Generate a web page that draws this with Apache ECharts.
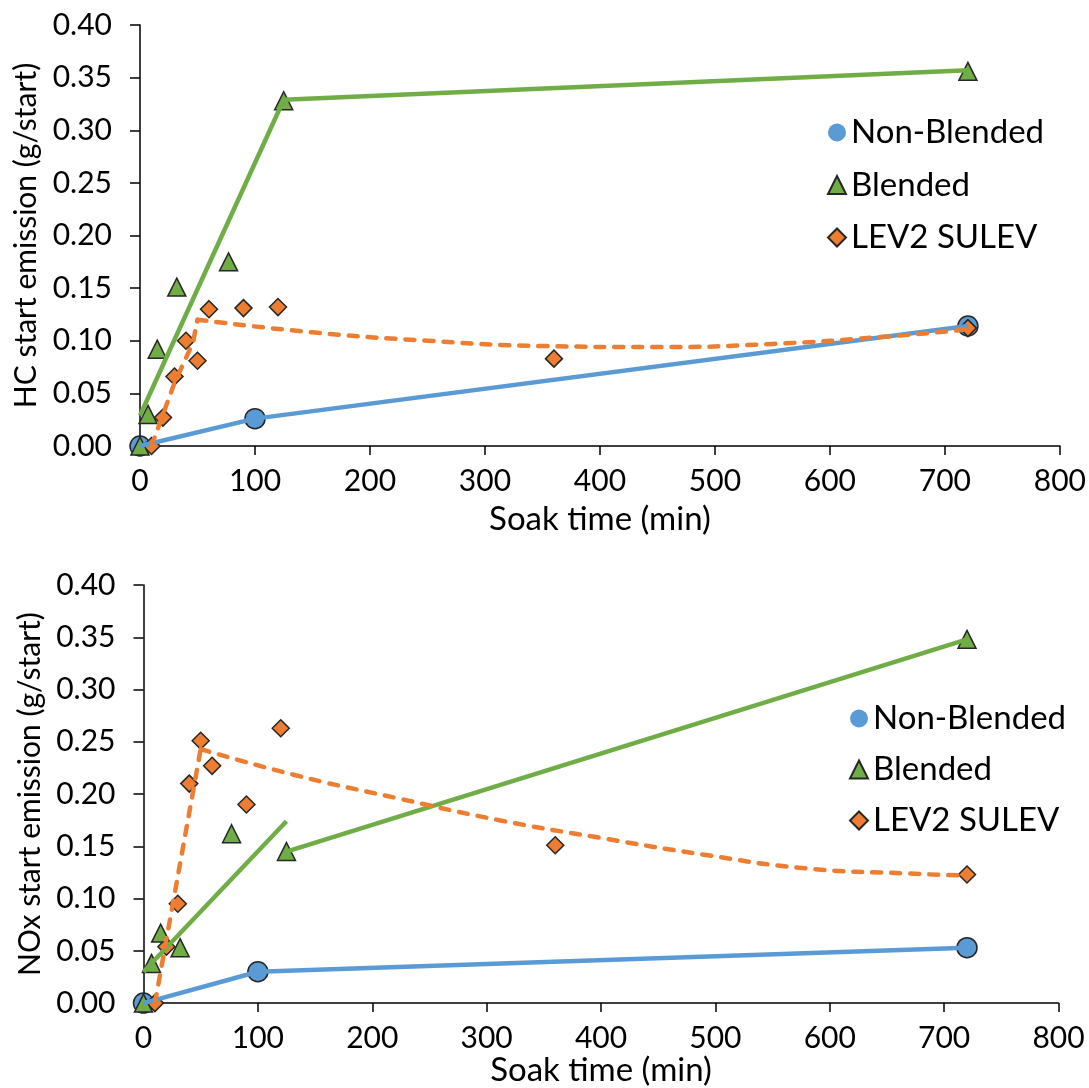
<!DOCTYPE html>
<html><head><meta charset="utf-8">
<script src="https://cdn.jsdelivr.net/npm/echarts@6/dist/echarts.min.js"></script>
<style>html,body{margin:0;padding:0;background:#fff}#c{width:1089px;height:1088px}</style>
</head><body><div id="c"></div>
<script>
// ---- data ----
const nonBlendedX = [0, 100, 720];
const hcNonBlended = [0.000, 0.026, 0.114];
const noxNonBlended = [0.000, 0.030, 0.053];

const blendedX = [0, 7, 15, 32, 77, 125, 720];
const hcBlended = [0.000, 0.030, 0.092, 0.151, 0.175, 0.328, 0.356];
const noxBlended = [0.000, 0.038, 0.067, 0.053, 0.162, 0.145, 0.348];

const sulevX = [10, 20, 30, 40, 50, 60, 90, 120, 360, 720];
const hcSulev = [0.000, 0.027, 0.066, 0.100, 0.081, 0.130, 0.131, 0.132, 0.083, 0.112];
const noxSulev = [0.000, 0.054, 0.095, 0.210, 0.251, 0.227, 0.190, 0.263, 0.151, 0.123];

// trend lines
const hcNbTrendX = [0, 100, 720];
const hcNbTrend = [0.000, 0.026, 0.114];
const noxNbTrendX = [0, 100, 720];
const noxNbTrend = [0.000, 0.030, 0.053];

const hcBlTrendAX = [0, 125];
const hcBlTrendA = [0.029, 0.329];
const hcBlTrendBX = [125, 720];
const hcBlTrendB = [0.329, 0.357];
const noxBlTrendAX = [0, 125];
const noxBlTrendA = [0.030, 0.174];
const noxBlTrendBX = [125, 720];
const noxBlTrendB = [0.145, 0.348];

const hcSuTrendAX = [10, 30, 46, 50];
const hcSuTrendA = [0.000, 0.060, 0.098, 0.120];
const hcSuTrendBX = [50, 150, 250, 350, 450, 550, 650, 720];
const hcSuTrendB = [0.120, 0.108, 0.100, 0.095, 0.094, 0.097, 0.104, 0.111];
const noxSuTrendAX = [10, 50];
const noxSuTrendA = [0.000, 0.243];
const noxSuTrendBX = [50, 133, 222, 311, 400, 490, 578, 668, 720];
const noxSuTrendB = [0.243, 0.218, 0.196, 0.175, 0.158, 0.142, 0.129, 0.124, 0.122];

const xTitle = 'Soak time (min)';
const yTitles = ['HC start emission (g/start)', 'NOx start emission (g/start)'];
const seriesNames = ['Non-Blended', 'Blended', 'LEV2 SULEV'];

// ---- styling ----
const FONT = 'Lato';
const BLUE = '#5B9BD5', GREEN = '#70AD47', ORANGE = '#ED7D31', EDGE = '#262626';
const zip = (xs, ys) => xs.map((x, i) => [x, ys[i]]);

function lineS(gi, xs, ys, color, dashed, smooth) {
  return {
    type: 'line', xAxisIndex: gi, yAxisIndex: gi, data: zip(xs, ys),
    symbol: 'none', smooth: smooth ? 0.5 : false, z: 5, silent: true,
    lineStyle: dashed ? { color, width: 4.5, type: [9, 10], cap: 'round' } : { color, width: 4.5 }
  };
}
function scat(gi, name, xs, ys, symbol, size, color, z) {
  return {
    type: 'scatter', name, xAxisIndex: gi, yAxisIndex: gi, data: zip(xs, ys),
    symbol, symbolSize: size, z,
    itemStyle: { color, borderColor: EDGE, borderWidth: 1.5, opacity: 1 }
  };
}

const grids = [
  { left: 140, top: 25, width: 920, height: 421 },
  { left: 143.5, top: 585, width: 915, height: 421 }
];
const axisCommon = {
  axisLine: { show: true, lineStyle: { color: '#000', width: 1.5 } },
  splitLine: { show: false },
  nameLocation: 'middle'
};
const xAxes = [0, 1].map(gi => Object.assign({}, axisCommon, {
  type: 'value', gridIndex: gi, min: 0, max: 800, interval: 100,
  axisTick: { show: true, length: 9, lineStyle: { color: '#000', width: 1.5 } },
  axisLabel: { fontFamily: FONT, fontSize: 30, color: '#000', margin: 20 },
  name: xTitle, nameGap: gi === 0 ? 57 : 49,
  nameTextStyle: { fontFamily: FONT, fontSize: 33, color: '#000' }
}));
const yAxes = [0, 1].map(gi => Object.assign({}, axisCommon, {
  type: 'value', gridIndex: gi, min: 0, max: 0.4, interval: 0.05,
  axisTick: { show: true, length: 10, lineStyle: { color: '#000', width: 1.5 } },
  axisLabel: { fontFamily: FONT, fontSize: 30, color: '#000', margin: 28, formatter: v => v.toFixed(2) },
  name: yTitles[gi], nameGap: 92,
  nameTextStyle: { fontFamily: FONT, fontSize: 30, color: '#000' }
}));

const series = [];
const sets = [
  { nb: hcNonBlended, bl: hcBlended, su: hcSulev,
    nbT: [hcNbTrendX, hcNbTrend], blA: [hcBlTrendAX, hcBlTrendA], blB: [hcBlTrendBX, hcBlTrendB],
    suA: [hcSuTrendAX, hcSuTrendA], suB: [hcSuTrendBX, hcSuTrendB] },
  { nb: noxNonBlended, bl: noxBlended, su: noxSulev,
    nbT: [noxNbTrendX, noxNbTrend], blA: [noxBlTrendAX, noxBlTrendA], blB: [noxBlTrendBX, noxBlTrendB],
    suA: [noxSuTrendAX, noxSuTrendA], suB: [noxSuTrendBX, noxSuTrendB] }
];
sets.forEach((s, gi) => {
  series.push(scat(gi, seriesNames[0], nonBlendedX, s.nb, 'circle', 20, BLUE, 2));
  series.push(scat(gi, seriesNames[2], sulevX, s.su, 'diamond', 17, ORANGE, 3));
  series.push(scat(gi, seriesNames[1], blendedX, s.bl, 'triangle', 18, GREEN, 4));
  series.push(lineS(gi, s.nbT[0], s.nbT[1], BLUE, false, false));
  series.push(lineS(gi, s.blA[0], s.blA[1], GREEN, false, false));
  series.push(lineS(gi, s.blB[0], s.blB[1], GREEN, false, false));
  series.push(lineS(gi, s.suA[0], s.suA[1], ORANGE, true, false));
  series.push(lineS(gi, s.suB[0], s.suB[1], ORANGE, true, true));
});

function legendAt(left, top, gap) {
  return {
    orient: 'vertical', left, top, padding: 0, itemGap: gap,
    itemWidth: 18, itemHeight: 18, selectedMode: false,
    textStyle: { fontFamily: FONT, fontSize: 33, color: '#000', lineHeight: 32 },
    data: [
      { name: seriesNames[0], icon: 'circle', itemStyle: { borderWidth: 0 } },
      { name: seriesNames[1], icon: 'triangle' },
      { name: seriesNames[2], icon: 'diamond' }
    ]
  };
}

const chart = echarts.init(document.getElementById('c'), null, { renderer: 'canvas' });
chart.setOption({
  backgroundColor: '#fff',
  animation: false,
  textStyle: { fontFamily: FONT },
  grid: grids,
  xAxis: xAxes,
  yAxis: yAxes,
  legend: [legendAt(827, 116, 19.5), legendAt(849, 702, 18)],
  series
});
</script>
</body></html>
